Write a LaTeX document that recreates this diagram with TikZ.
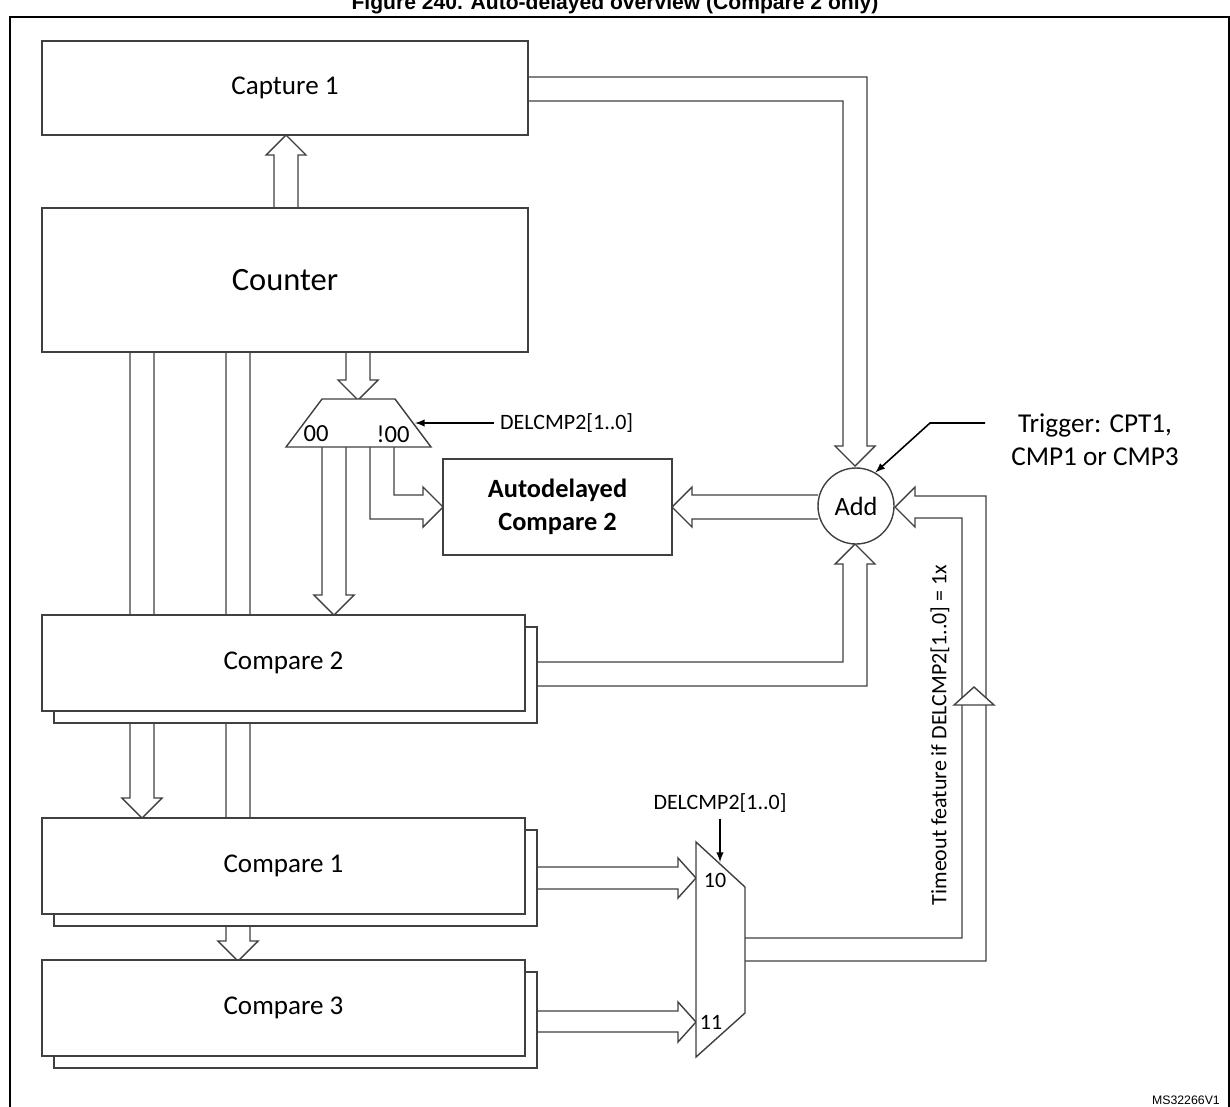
\documentclass[tikz,border=0pt]{standalone}
\usepackage{fontspec}
\setmainfont{Carlito}
\newfontfamily\titlefont{Liberation Sans}
\usetikzlibrary{calc}

% hollow bus pieces, (x, from, tip)
\newcommand{\busdown}[3]{\draw[bus] ({#1-12},#2) -- ({#1-12},{#3-20}) -- ({#1-20},{#3-20}) -- (#1,#3) -- ({#1+20},{#3-20}) -- ({#1+12},{#3-20}) -- ({#1+12},#2);}
\newcommand{\busup}[3]{\draw[bus] ({#1-12},#2) -- ({#1-12},{#3+20}) -- ({#1-20},{#3+20}) -- (#1,#3) -- ({#1+20},{#3+20}) -- ({#1+12},{#3+20}) -- ({#1+12},#2);}

\tikzset{
  bus/.style={draw=black!75, line width=0.8pt, fill=white},
  blk/.style={draw=black!75, line width=0.8pt, fill=white},
  lbl/.style={font=\fontsize{15.4}{18}\selectfont},
  sml/.style={font=\fontsize{12.5}{15}\selectfont},
  mux/.style={font=\fontsize{14}{16}\selectfont, inner sep=1pt}
}

\begin{document}
\begin{tikzpicture}[x=0.02cm,y=-0.02cm]
  \useasboundingbox (0,0) rectangle (1230,1106);
  \draw[line width=1.2pt] (10,1120) -- (10,17) -- (1229,17) -- (1229,1120);
  \node[font=\titlefont\bfseries\fontsize{12}{14}\selectfont] (title) at (615,4) {Figure 240. Auto-delayed overview (Compare 2 only)};
  \node[font=\titlefont\fontsize{7}{8}\selectfont, anchor=east] (ref) at (1226,1100) {MS32266V1};

  % buses behind the blocks
  \busdown{142}{352}{818}
  \busdown{238}{352}{961}
  \busdown{358}{352}{400}
  \busdown{334}{447}{615}
  \busup{286}{208}{135}
  \draw[bus] (528,77) -- (867,77) -- (867,446) -- (875,446) -- (855,466) -- (835,446) -- (843,446) -- (843,101) -- (528,101);
  \draw[bus] (537,686) -- (867,686) -- (867,564) -- (875,564) -- (855,544) -- (835,564) -- (843,564) -- (843,662) -- (537,662);
  \draw[bus] (394,447) -- (394,495) -- (423,495) -- (423,487) -- (443,507) -- (423,527) -- (423,519) -- (370,519) -- (370,447);
  \draw[bus] (818,495) -- (692,495) -- (692,487) -- (672,507) -- (692,527) -- (692,519) -- (818,519);
  \draw[bus] (537,867) -- (678,867) -- (678,858) -- (696,878) -- (678,898) -- (678,889) -- (537,889);
  \draw[bus] (537,1011) -- (678,1011) -- (678,1002) -- (696,1022) -- (678,1042) -- (678,1032) -- (537,1032);
  \draw[bus] (745,938) -- (962,938) -- (962,518) -- (915,518) -- (915,527) -- (895,507) -- (915,487) -- (915,496) -- (986,496) -- (986,961) -- (745,961);
  \draw[bus] (954,705) -- (974,687) -- (994,705) -- cycle;

  % blocks
  \node[blk, minimum width=486*0.02cm, minimum height=94*0.02cm, lbl] (cap) at (285,88) {Capture 1};
  \node[blk, minimum width=486*0.02cm, minimum height=144*0.02cm, font=\fontsize{18.5}{21}\selectfont] (cnt) at (285,280) {Counter};
  \foreach \y/\name/\txt in {663/cmp2/Compare 2, 866/cmp1/Compare 1, 1008/cmp3/Compare 3} {
    \node[blk, minimum width=483*0.02cm, minimum height=96*0.02cm] at (295.5,\y+12) {};
    \node[blk, minimum width=483*0.02cm, minimum height=96*0.02cm, lbl] (\name) at (283.5,\y) {\txt};
  }
  \node[blk, minimum width=229*0.02cm, minimum height=96*0.02cm, font=\bfseries\fontsize{15}{19}\selectfont, align=center] (auto) at (557.5,507) {Autodelayed\\Compare 2};
  \node[blk, circle, minimum size=76*0.02cm, inner sep=0pt, font=\fontsize{15}{18}\selectfont] (add) at (856,506) {Add};

  % multiplexers
  \draw[blk] (322,399) -- (395,399) -- (431,447) -- (286,447) -- cycle;
  \node[mux] (m00) at (316,434) {00};
  \node[mux] (mn00) at (393,434) {!00};
  \draw[blk] (696,842) -- (745,887) -- (745,1013) -- (696,1057) -- cycle;
  \node[sml] (m10) at (715,880) {10};
  \node[sml] (m11) at (711,1022) {11};

  % control inputs
  \node[sml, anchor=west] (dsel) at (494,423) {DELCMP2[1..0]};
  \draw[-latex, line width=0.9pt] (dsel.west) -- (415,423);
  \node[sml] (dsel2) at (720,803) {DELCMP2[1..0]};
  \draw[-latex, line width=0.9pt] (dsel2.south) -- (720,862);
  \node[align=center, font=\fontsize{15.5}{19}\selectfont] (trig) at (1095,440) {Trigger: CPT1,\\CMP1 or CMP3};
  \draw[-latex, line width=0.9pt] (985,423) -- (930,423) -- (add.60);
  \node[sml, rotate=90] (tmo) at (940,735) {Timeout feature if DELCMP2[1..0] = 1x};
\end{tikzpicture}
\end{document}
